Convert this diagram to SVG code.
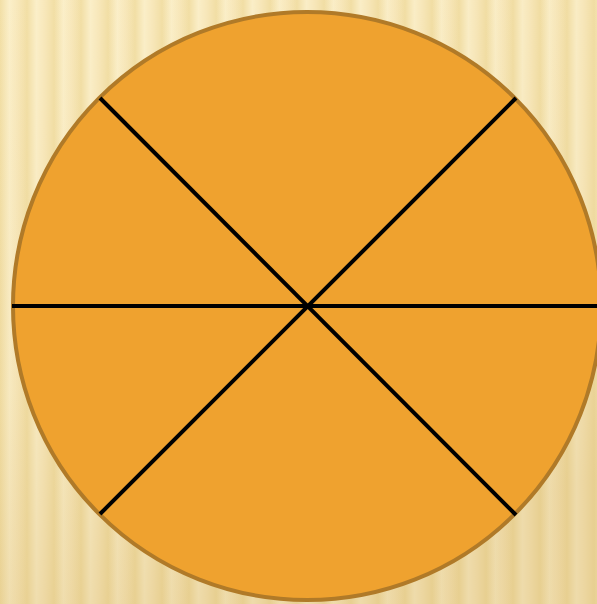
<svg xmlns="http://www.w3.org/2000/svg" width="597" height="604" viewBox="0 0 597 604">
<defs>
<linearGradient id="stripe" x1="0" y1="0" x2="1" y2="0">
<stop offset="0" stop-color="#f2dfa6"/>
<stop offset="0.35" stop-color="#fbefc9"/>
<stop offset="0.65" stop-color="#f8e8bb"/>
<stop offset="1" stop-color="#f2dfa6"/>
</linearGradient>
<pattern id="bg" x="0" y="0" width="27" height="604" patternUnits="userSpaceOnUse">
<rect width="27" height="604" fill="url(#stripe)"/>
</pattern>
<linearGradient id="shade" x1="0" y1="0" x2="0.3" y2="1">
<stop offset="0" stop-color="#c8a050" stop-opacity="0"/>
<stop offset="0.6" stop-color="#c8a050" stop-opacity="0.08"/>
<stop offset="1" stop-color="#c8a050" stop-opacity="0.25"/>
</linearGradient>
<style>
.div{stroke:#000;stroke-width:4;fill:none}
</style>
</defs>
<rect width="597" height="604" fill="url(#bg)"/>
<rect width="597" height="604" fill="url(#shade)"/>
<g id="circle">
<circle cx="307" cy="306" r="294" fill="#efa22f" stroke="#b07a28" stroke-width="4"/>
</g>
<g id="connectors">
<line class="div" x1="12" y1="306" x2="597" y2="306"/>
<line class="div" x1="100" y1="98" x2="516" y2="515"/>
<line class="div" x1="516" y1="98" x2="100" y2="514"/>
</g>
</svg>
